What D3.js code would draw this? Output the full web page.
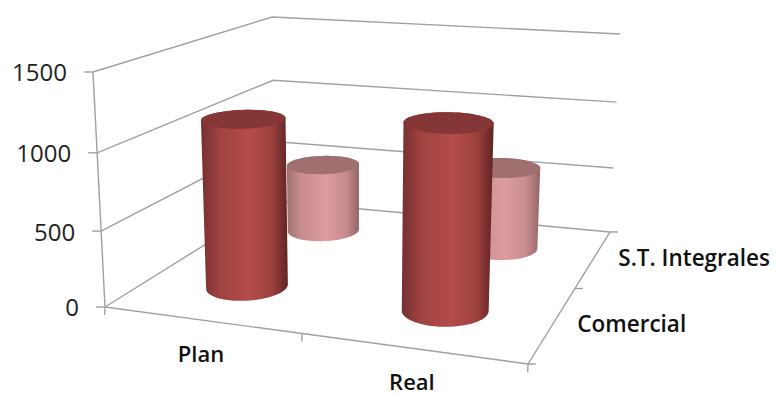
<!DOCTYPE html>
<html>
<head>
<meta charset="utf-8">
<script src="https://cdnjs.cloudflare.com/ajax/libs/d3/7.8.5/d3.min.js"></script>
<style>
html,body{margin:0;padding:0;background:#fff}
svg{display:block}
text{font-family:"Open Sans",sans-serif;fill:#111}
</style>
</head>
<body>
<svg id="chart" width="777" height="395"></svg>
<script>
const categories = ["Plan", "Real"];
const seriesNames = ["Comercial", "S.T. Integrales"];
const comercialValues = [1130, 1220];
const integralesValues = [510, 600];
const valueTicks = [0, 500, 1000, 1500];
const seriesColors = {
  "Comercial": {edgeL: "#74302f", mid: "#b44c4a", edgeR: "#5f2422", top: "#853636"},
  "S.T. Integrales": {edgeL: "#a07070", mid: "#dd9c9e", edgeR: "#946565", top: "#a07071"}
};

// Camera: the floor and ceiling of the plot box as seen on screen.
// Each corner list runs front-left, front-right, back-right, back-left.
const floorQuad = [[105, 307], [528, 364], [610, 232], [275, 201]];
const ceilingQuad = [[93, 72], [537, 113], [620, 34], [272, 17]];
// Where the vertical edges of the box converge, far below the plot.
const verticalVanish = [357, 5242];

// Maps the unit square onto a quadrilateral with true perspective foreshortening.
function squareToQuad(q) {
  const [[x0, y0], [x1, y1], [x2, y2], [x3, y3]] = q;
  const dx1 = x1 - x2, dx2 = x3 - x2, sx = x0 - x1 + x2 - x3;
  const dy1 = y1 - y2, dy2 = y3 - y2, sy = y0 - y1 + y2 - y3;
  const det = dx1 * dy2 - dx2 * dy1;
  const g = (sx * dy2 - dx2 * sy) / det;
  const h = (dx1 * sy - sx * dy1) / det;
  const a = x1 - x0 + g * x1, b = x3 - x0 + h * x3;
  const d = y1 - y0 + g * y1, e = y3 - y0 + h * y3;
  return (u, v) => {
    const w = g * u + h * v + 1;
    return [(a * u + b * v + x0) / w, (d * u + e * v + y0) / w];
  };
}
const floorMap = squareToQuad(floorQuad);
const ceilingMap = squareToQuad(ceilingQuad);

// Height fraction per value: slight stretch toward the top of the box.
const heightScale = d3.scaleLinear().domain(valueTicks).range([0, 0.323, 0.656, 1]);
const categoryScale = d3.scalePoint().domain(categories).range([0.252, 0.752]);
const depthScale = d3.scalePoint().domain(seriesNames).range([0.25, 0.76]);

function project(u, d, value) {
  const t = heightScale(value);
  const p = floorMap(u, d), c = ceilingMap(u, d);
  const y = p[1] + (c[1] - p[1]) * t;
  // Verticals spread away from the shared vanishing point as they rise.
  const lean = (verticalVanish[0] - p[0]) / (verticalVanish[1] - p[1]);
  return [p[0] - (p[1] - y) * lean, y];
}

const svg = d3.select("#chart");
const gridColor = "#a0a0a0";
const line = d3.line();

function stroke(points, width) {
  svg.append("path").attr("d", line(points))
    .attr("fill", "none").attr("stroke", gridColor).attr("stroke-width", width || 1.4);
}

// Gridlines on the left and back walls, plus the value ticks
valueTicks.forEach(v => {
  const frontLeft = project(0, 0, v), backLeft = project(0, 1, v), backRight = project(1, 1, v);
  stroke([frontLeft, backLeft, backRight]);
  stroke([frontLeft, [frontLeft[0] - 9, frontLeft[1]]]);
  svg.append("text")
    .attr("x", frontLeft[0] - 26).attr("y", frontLeft[1] + 3)
    .attr("text-anchor", "end").attr("dominant-baseline", "middle")
    .attr("font-size", 24).style("fill", "#222").text(v);
});

// Value axis, category axis and depth axis
stroke([project(0, 0, 0), project(0, 0, 1500)]);
stroke([project(0, 0, 0), project(1, 0, 0), project(1, 1, 0)]);
[0, 0.5, 1].forEach(u => {
  const p = project(u, 0, 0);
  stroke([p, [p[0] - 0.3, p[1] + 8]]);
});
[0, 0.5, 1].forEach(d => {
  const p = project(1, d, 0);
  stroke([p, [p[0] + 8, p[1]]]);
});

// Category and series labels
categories.forEach(c => {
  const p = project(categoryScale(c), 0, 0);
  svg.append("text").attr("x", p[0]).attr("y", p[1] + 36)
    .attr("text-anchor", "middle").attr("dominant-baseline", "middle")
    .attr("font-size", 22).attr("font-weight", 600).text(c);
});
seriesNames.forEach(s => {
  const p = project(1, depthScale(s), 0);
  svg.append("text").attr("x", p[0] + 24).attr("y", p[1] + 3)
    .attr("dominant-baseline", "middle")
    .attr("font-size", 22.5).attr("font-weight", 600).text(s);
});

// Cylinders, drawn back row first so the front row overlaps it
const radiusU = 0.098, radiusD = 0.108;
const angles = d3.range(0, 360, 5).map(a => a * Math.PI / 180);
const defs = svg.append("defs");
const rows = [
  {series: "S.T. Integrales", values: integralesValues},
  {series: "Comercial", values: comercialValues}
];

rows.forEach((row, ri) => {
  const col = seriesColors[row.series];
  row.values.forEach((value, i) => {
    const u = categoryScale(categories[i]), d = depthScale(row.series);
    const ring = v => angles.map(a =>
      project(u + radiusU * Math.cos(a), d + radiusD * Math.sin(a), v));
    const base = ring(0), lid = ring(value);
    const hull = d3.polygonHull(base.concat(lid));
    const xr = d3.extent(hull, p => p[0]);
    const id = `shade-${ri}-${i}`;
    const g = defs.append("linearGradient").attr("id", id)
      .attr("gradientUnits", "userSpaceOnUse")
      .attr("x1", xr[0]).attr("x2", xr[1]).attr("y1", 0).attr("y2", 0);
    [[0, col.edgeL], [0.2, d3.interpolateRgb(col.edgeL, col.mid)(0.65)], [0.55, col.mid],
     [0.82, d3.interpolateRgb(col.edgeR, col.mid)(0.7)], [1, col.edgeR]]
      .forEach(([o, c]) => g.append("stop").attr("offset", o).attr("stop-color", c));
    svg.append("path").attr("d", line(hull) + "Z").attr("fill", `url(#${id})`);
    svg.append("path").attr("d", line(lid) + "Z").attr("fill", col.top);
  });
});
</script>
</body>
</html>
